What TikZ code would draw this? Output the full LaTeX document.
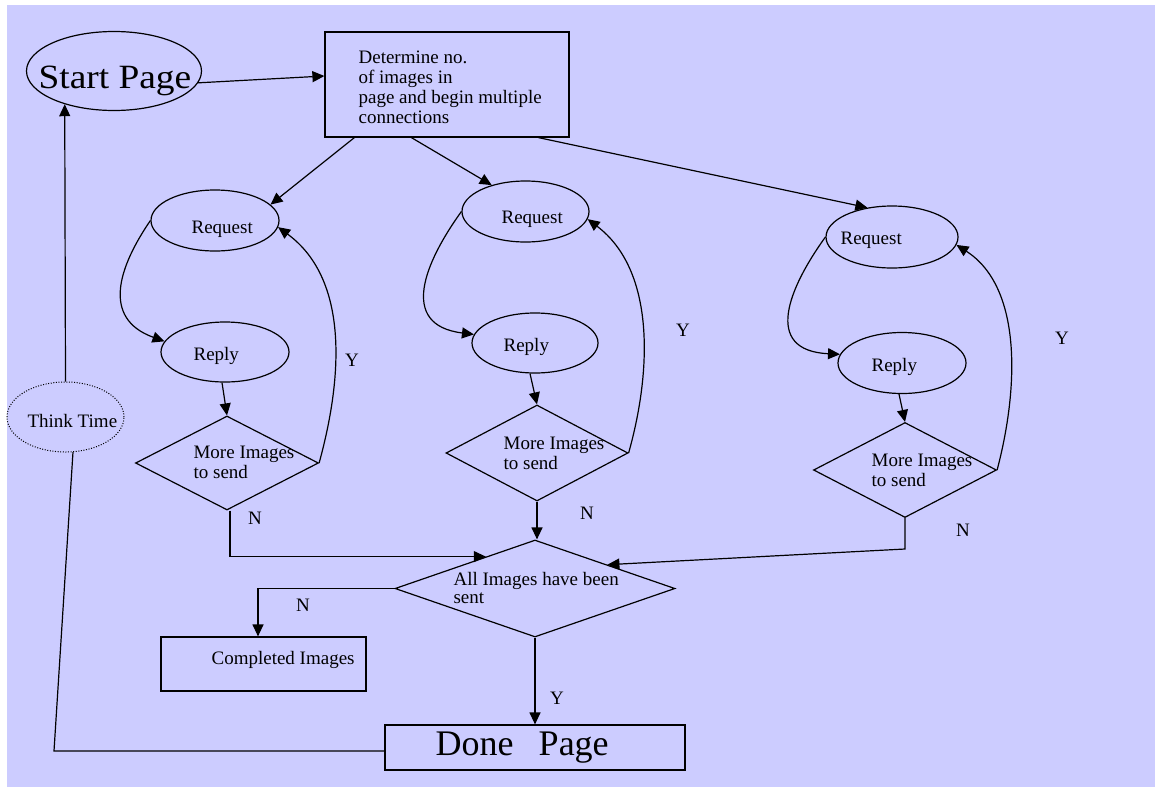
\documentclass[tikz,border=0pt]{standalone}
\usepackage{fontspec}
\setmainfont{Liberation Serif}
\usepackage{graphicx}
\usetikzlibrary{shapes.geometric,arrows.meta,calc}
\definecolor{bgl}{RGB}{204,204,255}
\begin{document}
\begin{tikzpicture}[x=0.5pt,y=-0.5pt,
  line width=0.6pt,
  >={Triangle[length=6pt,width=5.5pt]},
  ell/.style={draw,ellipse,inner sep=0pt},
  dia/.style={draw,diamond,inner sep=0pt},
  box/.style={draw,rectangle,inner sep=0pt},
  txt/.style={inner sep=0pt,anchor=base west,font=\fontsize{9.5}{10}\selectfont},
  mtxt/.style={inner sep=0pt,anchor=north west,align=left,font=\fontsize{9.5}{10}\selectfont},
  lab/.style={inner sep=0pt,anchor=base,font=\fontsize{9.5}{10}\selectfont}]
\useasboundingbox (0,0) rectangle (1155,787);
\fill[white] (0,0) rectangle (1155,787);
\fill[bgl] (7,5) rectangle (1155,787);

% start and determine
\node[ell,minimum width=87.5pt,minimum height=39.5pt] (start) at (114,71) {};
\node[txt,font=\fontsize{17}{20}\selectfont] (startt) at (38,88) {\scalebox{1.1}[1]{Start Page}};
\node[box,minimum width=122pt,minimum height=52.5pt] (det) at (447,84.5) {};
\node[mtxt] (dett) at (358,50) {Determine no.\\of images in\\page and begin multiple\\connections};

% column 1
\node[ell,minimum width=64pt,minimum height=30.5pt] (req1) at (215,220.5) {};
\node[txt] (req1t) at (191,233) {Request};
\node[ell,minimum width=64pt,minimum height=30pt] (rep1) at (225,352) {};
\node[txt] (rep1t) at (193,360) {Reply};
\node[dia,minimum width=91.5pt,minimum height=47pt] (d1) at (227,463) {};
\node[mtxt] (d1t) at (193,445) {More Images\\to send};

% column 2
\node[ell,minimum width=63.5pt,minimum height=30.5pt] (req2) at (525.5,211.5) {};
\node[txt] (req2t) at (501,223) {Request};
\node[ell,minimum width=63pt,minimum height=30pt] (rep2) at (535,343) {};
\node[txt] (rep2t) at (503,351) {Reply};
\node[dia,minimum width=91pt,minimum height=48pt] (d2) at (537,453) {};
\node[mtxt] (d2t) at (503,436) {More Images\\to send};

% column 3
\node[ell,minimum width=66pt,minimum height=31pt] (req3) at (892,237) {};
\node[txt] (req3t) at (840,244) {Request};
\node[ell,minimum width=64pt,minimum height=30.5pt] (rep3) at (902,363) {};
\node[txt] (rep3t) at (871,371) {Reply};
\node[dia,minimum width=91.5pt,minimum height=47.5pt] (d3) at (905,470) {};
\node[mtxt] (d3t) at (871,453) {More Images\\to send};

% bottom
\node[dia,minimum width=140pt,minimum height=48.5pt] (all) at (535,588.5) {};
\node[mtxt,font=\fontsize{9.5}{9}\selectfont] (allt) at (453,572) {All Images have been\\sent};
\node[box,minimum width=102.5pt,minimum height=27pt] (comp) at (263.5,664) {};
\node[txt] (compt) at (211,664) {Completed Images};
\node[box,minimum width=150pt,minimum height=22.5pt] (done) at (535,747.5) {};
\node[txt,font=\fontsize{18}{20}\selectfont] (donet) at (435,755) {Done\hspace{0.7em}Page};
\node[ell,dash pattern=on 0.5pt off 0.8pt,line width=0.5pt,minimum width=58.5pt,minimum height=35pt] (think) at (65.5,417) {};
\node[txt] (thinkt) at (27,427) {Think Time};

% labels
\node[lab] (y1) at (352,366) {Y};
\node[lab] (y2) at (683,336) {Y};
\node[lab] (y3) at (1062,344) {Y};
\node[lab] (n1) at (255,524) {N};
\node[lab] (n2) at (587,519) {N};
\node[lab] (n3) at (963,536) {N};
\node[lab] (n4) at (303,611) {N};
\node[lab] (y4) at (557,704) {Y};

% connectors
\draw[->] (start.-8) -- ([yshift=4.25pt]det.west);
\draw[->] ([xshift=15pt]det.south west) -- (req1.16);
\draw[->] ([xshift=43.5pt]det.south west) -- (req2.142);
\draw[->] ([xshift=107pt]det.south west) -- (req3.130);

\draw[->] (req1.west) .. controls (120,265) and (100,318) .. (rep1.170);
\draw[->] (d1.east) .. controls (342,380) and (350,280) .. (req1.-6);
\draw[->] ([xshift=-1.5pt]rep1.south) -- (d1.north);
\draw[->] ([xshift=1.5pt]d1.south) |- ($(all.west)!0.65!(all.north)$);

\draw[->] (req2.west) .. controls (425,262) and (398,325) .. (rep2.172);
\draw[->] (d2.east) .. controls (652,370) and (655,270) .. (req2.-7);
\draw[->] ([xshift=-2.5pt]rep2.south) -- (d2.north);
\draw[->] (d2.south) -- (d2.south |- all.north);

\draw[->] (req3.west) .. controls (789,287.5) and (762,350.5) .. (rep3.172);
\draw[->] (d3.east) .. controls (1019,387) and (1022,287) .. (req3.-7);
\draw[->] ([xshift=-1.5pt]rep3.south) -- (d3.north);
\coordinate (b3) at (905,549);
\draw[->] (d3.south) -- (b3) -- ($(all.east)!0.485!(all.north)$);

\draw[->] (all.west) -| ([xshift=-2.75pt]comp.north);
\draw[->] (all.south) -- (done.north);
\draw[->] (think.north) -- (start.214);
\coordinate (b4) at (54,751);
\draw (think.-78) -- (b4) -- (b4 -| done.west);
\end{tikzpicture}
\end{document}
